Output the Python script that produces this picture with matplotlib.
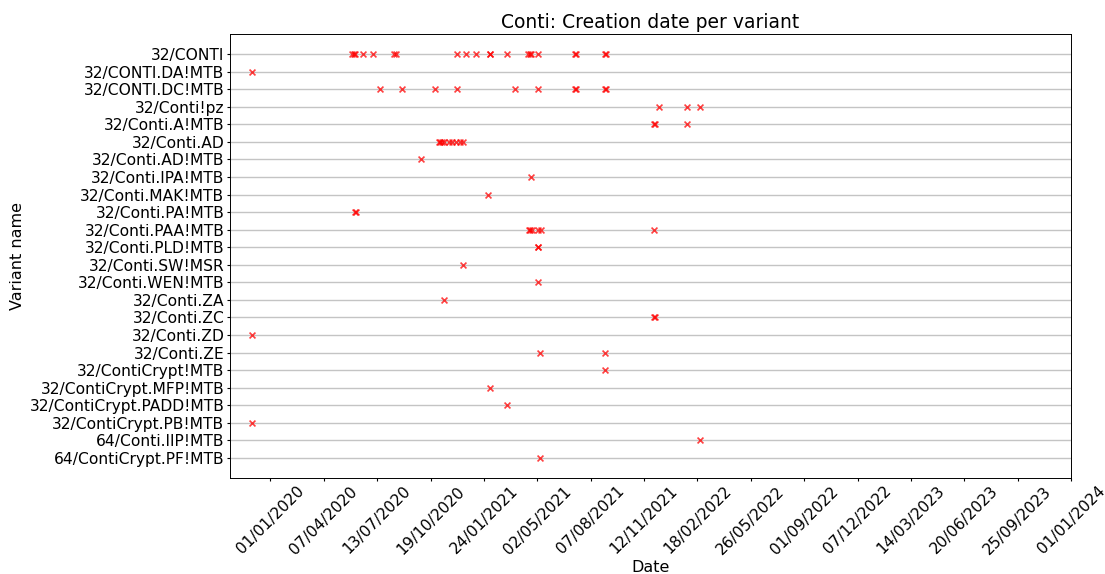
import numpy as np
import pandas as pd
import matplotlib.pyplot as plt
import matplotlib.dates as mdates

variantes = ['32/CONTI', '32/CONTI.DA!MTB', '32/CONTI.DC!MTB', '32/Conti!pz',
             '32/Conti.A!MTB', '32/Conti.AD', '32/Conti.AD!MTB', '32/Conti.IPA!MTB',
             '32/Conti.MAK!MTB', '32/Conti.PA!MTB', '32/Conti.PAA!MTB', '32/Conti.PLD!MTB',
             '32/Conti.SW!MSR', '32/Conti.WEN!MTB', '32/Conti.ZA', '32/Conti.ZC',
             '32/Conti.ZD', '32/Conti.ZE', '32/ContiCrypt!MTB', '32/ContiCrypt.MFP!MTB',
             '32/ContiCrypt.PADD!MTB', '32/ContiCrypt.PB!MTB', '64/Conti.IIP!MTB',
             '64/ContiCrypt.PF!MTB']

# datas de criação de cada amostra, por variante
datas = {
    '32/CONTI': ['2020-05-29', '2020-06-01', '2020-06-04', '2020-06-17', '2020-07-07',
                 '2020-08-13', '2020-08-18', '2020-12-07', '2020-12-23', '2021-01-11',
                 '2021-02-04', '2021-02-05', '2021-03-08', '2021-04-15', '2021-04-18',
                 '2021-04-21', '2021-05-04', '2021-07-10', '2021-07-11', '2021-09-03',
                 '2021-09-04'],
    '32/CONTI.DA!MTB': ['2019-11-29'],
    '32/CONTI.DC!MTB': ['2020-07-18', '2020-08-28', '2020-10-28', '2020-12-07',
                        '2021-03-23', '2021-05-04', '2021-07-10', '2021-07-11',
                        '2021-09-03', '2021-09-04'],
    '32/Conti!pz': ['2021-12-10', '2022-01-30', '2022-02-23'],
    '32/Conti.A!MTB': ['2021-12-01', '2021-12-02', '2022-01-30'],
    '32/Conti.AD': ['2020-11-04', '2020-11-06', '2020-11-09', '2020-11-13', '2020-11-22',
                    '2020-11-27', '2020-12-05', '2020-12-11', '2020-12-17'],
    '32/Conti.AD!MTB': ['2020-10-02'],
    '32/Conti.IPA!MTB': ['2021-04-21'],
    '32/Conti.MAK!MTB': ['2021-02-01'],
    '32/Conti.PA!MTB': ['2020-06-04', '2020-06-05'],
    '32/Conti.PAA!MTB': ['2021-04-16', '2021-04-18', '2021-04-23', '2021-05-03',
                         '2021-05-08', '2021-12-01'],
    '32/Conti.PLD!MTB': ['2021-05-03', '2021-05-04'],
    '32/Conti.SW!MSR': ['2020-12-18'],
    '32/Conti.WEN!MTB': ['2021-05-03'],
    '32/Conti.ZA': ['2020-11-13'],
    '32/Conti.ZC': ['2021-12-01', '2021-12-02'],
    '32/Conti.ZD': ['2019-11-29'],
    '32/Conti.ZE': ['2021-05-06', '2021-09-03'],
    '32/ContiCrypt!MTB': ['2021-09-03'],
    '32/ContiCrypt.MFP!MTB': ['2021-02-04'],
    '32/ContiCrypt.PADD!MTB': ['2021-03-08'],
    '32/ContiCrypt.PB!MTB': ['2019-11-29'],
    '64/Conti.IIP!MTB': ['2022-02-23'],
    '64/ContiCrypt.PF!MTB': ['2021-05-06'],
}

linhas = []
for v in variantes:
    for d in datas[v]:
        linhas.append({'variant': v, 'date': pd.to_datetime(d)})
df = pd.DataFrame(linhas)
df['pos'] = df['variant'].map({v: i for i, v in enumerate(variantes)})

fig, ax = plt.subplots(figsize=(11.05, 5.74), dpi=100)
fig.subplots_adjust(left=230/1105, right=1071/1105, top=1-34/574, bottom=1-478/574)

ax.scatter(df['date'], df['pos'], marker='x', color='red', s=18, linewidths=1.2,
           alpha=0.75, zorder=3)

ax.set_yticks(range(len(variantes)))
ax.set_yticklabels(variantes)
ax.invert_yaxis()
ax.grid(axis='y', color='#c4c4c4', linewidth=1)
ax.set_axisbelow(True)

ticks = np.linspace(mdates.date2num(pd.Timestamp('2020-01-01')),
                    mdates.date2num(pd.Timestamp('2024-01-01')), 16)
ax.set_xticks(ticks)
ax.xaxis.set_major_formatter(mdates.DateFormatter('%d/%m/%Y'))
plt.xticks(rotation=45)

ax.tick_params(labelsize=11.2, length=2.5, pad=1.5)
for s in ax.spines.values():
    s.set_linewidth(0.7)
ax.set_title('Conti: Creation date per variant', fontsize=13.5, pad=4.3)
ax.set_xlabel('Date', fontsize=11.5, labelpad=2)
ax.set_ylabel('Variant name', fontsize=11.5, labelpad=3)

fig.savefig('out.png', dpi=100)
